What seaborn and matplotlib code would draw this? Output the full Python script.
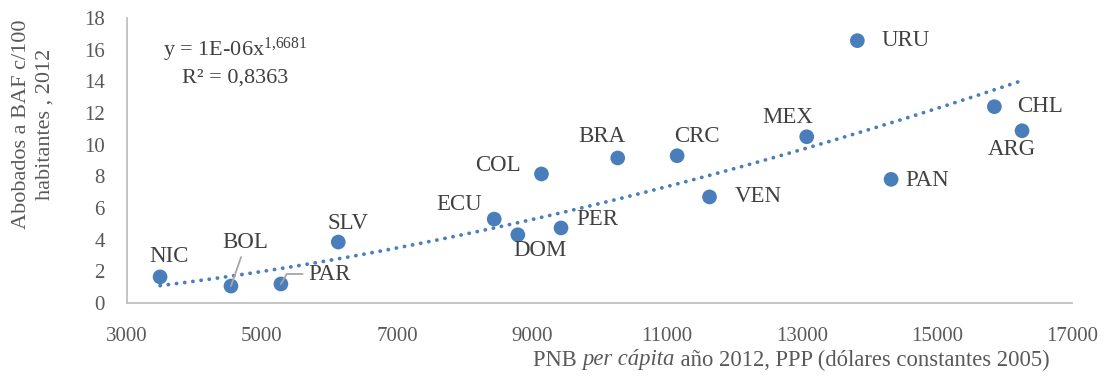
import numpy as np
import pandas as pd
import matplotlib
matplotlib.use("Agg")
import matplotlib.pyplot as plt
import seaborn as sns

# ---------------- data ----------------
countries = ["NIC", "BOL", "PAR", "SLV", "ECU", "DOM", "PER", "COL", "BRA",
             "CRC", "VEN", "MEX", "URU", "PAN", "CHL", "ARG"]
gnp_pc = [3490, 4540, 5280, 6130, 8440, 8790, 9430, 9140, 10270,
          11150, 11630, 13070, 13820, 14320, 15850, 16260]
baf_per100 = [1.65, 1.07, 1.20, 3.85, 5.30, 4.31, 4.74, 8.15, 9.16,
              9.30, 6.70, 10.50, 16.57, 7.81, 12.40, 10.88]
x_ticks = [3000, 5000, 7000, 9000, 11000, 13000, 15000, 17000]
y_ticks = [0, 2, 4, 6, 8, 10, 12, 14, 16, 18]
eq_line1 = "y = 1E-06x$^{1{,}6681}$"
eq_line2 = "R² = 0,8363"
xlabel_parts = ["PNB ", "per cápita", " año 2012, PPP (dólares constantes 2005)"]
ylabel_text = "Abobados a BAF c/100\nhabitantes , 2012"

# ---------------- style ----------------
label_offsets = {  # pixel offsets of labels from points
    "NIC": (9, 20), "BOL": (14, 44), "PAR": (49, 10), "SLV": (10, 19),
    "ECU": (-35, 15), "DOM": (22, -16), "PER": (36, 8), "COL": (-44, 8),
    "BRA": (-16, 21), "CRC": (20, 19), "VEN": (49, 0), "MEX": (-19, 19),
    "URU": (48, 0), "PAN": (36, -1), "CHL": (46, 0), "ARG": (-10, -19),
}
blue = "#4A7EBB"
txt = "#404040"
tick_col = "#595959"
axis_col = "#BFBFBF"
serif = ["Liberation Serif", "DejaVu Serif"]

sns.set_theme(style="white")
plt.rcParams["font.family"] = serif
plt.rcParams["mathtext.fontset"] = "custom"
plt.rcParams["mathtext.rm"] = "Liberation Serif"
plt.rcParams["mathtext.it"] = "Liberation Serif:italic"

df = pd.DataFrame({"country": countries, "x": gnp_pc, "y": baf_per100})

fig = plt.figure(figsize=(11.06, 3.76), dpi=100)
ax = fig.add_axes([127 / 1106, 1 - 303 / 376, (1072 - 127) / 1106, (303 - 18) / 376])

# power trend line fitted in log-log space
b, log_a = np.polyfit(np.log(df["x"]), np.log(df["y"]), 1)
xs = np.linspace(df["x"].min(), df["x"].max(), 200)
trend = pd.DataFrame({"x": xs, "y": np.exp(log_a) * xs ** b})
sns.lineplot(data=trend, x="x", y="y", ax=ax, color=blue, linewidth=2.7,
             linestyle=(0, (0.05, 2.15)), dash_capstyle="round", zorder=2)

sns.scatterplot(data=df, x="x", y="y", ax=ax, color=blue, s=112,
                edgecolor="none", zorder=3)

for c, xv, yv in zip(countries, gnp_pc, baf_per100):
    dx, dy = label_offsets[c]
    kw = {}
    if c == "BOL":
        kw["arrowprops"] = dict(arrowstyle="-", color="#A6A6A6", lw=1.3,
                                shrinkA=1, shrinkB=0, relpos=(0.45, 0.0))
    if c == "PAR":
        kw["arrowprops"] = dict(arrowstyle="-", color="#A6A6A6", lw=1.3,
                                shrinkA=2, shrinkB=0, relpos=(0.0, 0.5),
                                connectionstyle="angle,angleA=0,angleB=60,rad=0")
    ax.annotate(c, (xv, yv), xytext=(dx, dy), textcoords="offset pixels",
                ha="center", va="center", fontsize=16.5, color=txt, zorder=4, **kw)

ax.set_xlim(x_ticks[0], x_ticks[-1])
ax.set_ylim(y_ticks[0], y_ticks[-1])
ax.set_xticks(x_ticks)
ax.set_yticks(y_ticks)
ax.set_xticklabels([str(t) for t in x_ticks])
ax.set_yticklabels([str(t) for t in y_ticks])
ax.tick_params(axis="both", length=0, labelsize=15, labelcolor=tick_col)
ax.tick_params(axis="x", pad=17)
ax.tick_params(axis="y", pad=16)
for s in ["top", "right"]:
    ax.spines[s].set_visible(False)
for s in ["left", "bottom"]:
    ax.spines[s].set_color(axis_col)
    ax.spines[s].set_linewidth(1.3)
ax.set_xlabel("")
ax.set_ylabel("")
ax.grid(False)

# equation box
fig.text(235 / 1106, 1 - 50 / 376, eq_line1, ha="center", va="center",
         fontsize=16, color=txt)
fig.text(235 / 1106, 1 - 78 / 376, eq_line2, ha="center", va="center",
         fontsize=16, color=txt)

# y label
fig.text(33 / 1106, 1 - 124 / 376, ylabel_text, ha="center", va="center",
         rotation=90, fontsize=16, color=tick_col, linespacing=1.35,
         multialignment="center")

# x label with italic part
renderer = fig.canvas.get_renderer()
xpos = 533
for i, part in enumerate(xlabel_parts):
    t = fig.text(xpos / 1106, 1 - 360 / 376, part, ha="left", va="center",
                 fontsize=16.3, color=tick_col,
                 style="italic" if i == 1 else "normal")
    bb = t.get_window_extent(renderer=renderer)
    xpos = bb.x1

fig.savefig("out.png", dpi=100)
